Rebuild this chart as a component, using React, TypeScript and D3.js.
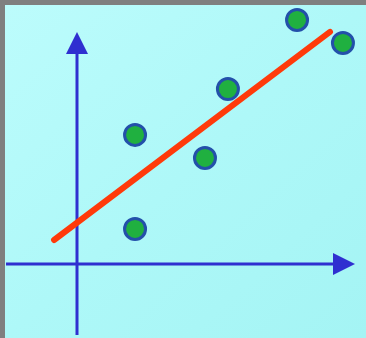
import React from "react";
import * as d3 from "d3";

// Observations (x, y) in chart units
const pointX = [2.15, 2.15, 4.74, 5.59, 8.15, 9.85];
const pointY = [1.46, 5.38, 4.42, 7.29, 10.17, 9.21];

// Fitted trend line end points
const trendX = [-0.85, 9.37];
const trendY = [1.0, 9.67];

const W = 366;
const H = 338;

export default function App() {
  const x = d3.scaleLinear().domain([0, 10]).range([77, 347]);
  const y = d3.scaleLinear().domain([0, 10]).range([264, 24]);

  const x0 = x(0);
  const y0 = y(0);

  const line = d3
    .line<number>()
    .x((_, i) => x(trendX[i]))
    .y((d) => y(d));

  const axisColor = "#2f2fd0";

  return (
    <svg
      width={W}
      height={H}
      style={{ position: "absolute", left: 0, top: 0 }}
    >
      <defs>
        <linearGradient id="bg" x1="0" y1="0" x2="1" y2="1">
          <stop offset="0" stopColor="#bcfcfc" />
          <stop offset="0.5" stopColor="#aef8f8" />
          <stop offset="1" stopColor="#a4f4f4" />
        </linearGradient>
      </defs>
      <rect x={0} y={0} width={W} height={H} fill="#7f7f7f" />
      <rect x={5} y={5} width={W - 5} height={H - 5} fill="url(#bg)" />

      {/* axes */}
      <line x1={x0} y1={335} x2={x0} y2={50} stroke={axisColor} strokeWidth={3} />
      <path
        d={`M${x0},32 L${x0 + 11},54 L${x0 - 11},54 Z`}
        fill={axisColor}
      />
      <line x1={6} y1={y0} x2={336} y2={y0} stroke={axisColor} strokeWidth={3} />
      <path
        d={`M355,${y0} L333,${y0 - 11} L333,${y0 + 11} Z`}
        fill={axisColor}
      />

      {/* trend line */}
      <path
        d={line(trendY) || ""}
        stroke="#ff3a0a"
        strokeWidth={6}
        strokeLinecap="round"
        fill="none"
      />

      {/* points */}
      {pointX.map((px, i) => (
        <circle
          key={i}
          cx={x(px)}
          cy={y(pointY[i])}
          r={10.5}
          fill="#20b040"
          stroke="#2350aa"
          strokeWidth={3}
        />
      ))}
    </svg>
  );
}
